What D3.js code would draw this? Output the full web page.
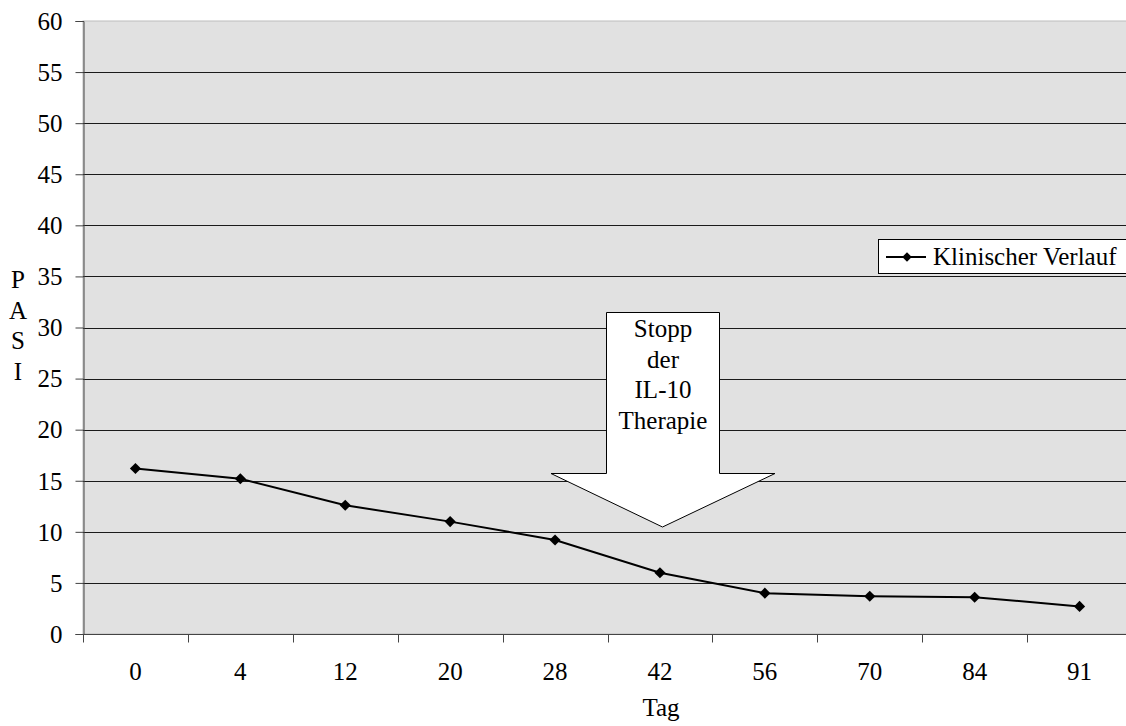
<!DOCTYPE html>
<html>
<head>
<meta charset="utf-8">
<script src="https://cdn.jsdelivr.net/npm/d3@7"></script>
<style>
  body { margin: 0; background: #fff; }
</style>
</head>
<body>
<svg id="chart" width="1126" height="726"></svg>
<script>
// data
const days = ['0', '4', '12', '20', '28', '42', '56', '70', '84', '91']
const pasi = [16.2, 15.2, 12.6, 11.0, 9.2, 6.0, 4.0, 3.7, 3.6, 2.7]
const yTicks = [0, 5, 10, 15, 20, 25, 30, 35, 40, 45, 50, 55, 60]
const seriesName = 'Klinischer Verlauf'
const arrowLines = ['Stopp', 'der', 'IL-10', 'Therapie']
const yLabel = ['P', 'A', 'S', 'I']

const FONT = "'Liberation Serif', 'Times New Roman', serif"

const svg = d3.select('#chart')
const margin = { left: 83, top: 21, right: 1132, bottom: 634 }

const x = d3.scaleBand().domain(days).range([margin.left, margin.right])
const y = d3.scaleLinear().domain([0, 60]).range([margin.bottom, margin.top])

// plot background
svg.append('rect')
    .attr('x', margin.left).attr('y', margin.top)
    .attr('width', margin.right - margin.left)
    .attr('height', margin.bottom - margin.top)
    .style('fill', '#e1e1e1')
    .style('stroke', '#bdbdbd')

// gridlines
svg.append('g').selectAll('line')
    .data(yTicks.filter(d => d > 0 && d < 60))
    .join('line')
    .attr('x1', margin.left).attr('x2', margin.right)
    .attr('y1', d => Math.round(y(d)) + 0.5).attr('y2', d => Math.round(y(d)) + 0.5)
    .style('stroke', '#1a1a1a')

// y axis
const yAxis = svg.append('g')
    .attr('transform', `translate(${margin.left + 0.5},0)`)
    .call(d3.axisLeft(y).tickValues(yTicks).tickSize(8).tickPadding(13))
yAxis.select('.domain').style('stroke', '#444')
yAxis.selectAll('.tick line').style('stroke', '#444')
yAxis.selectAll('text').attr('dy', '0.33em')

// x axis (ticks between categories)
const xAxisG = svg.append('g')
    .attr('transform', `translate(0,${margin.bottom + 0.5})`)
xAxisG.append('line')
    .attr('x1', margin.left).attr('x2', margin.right)
    .style('stroke', '#444')
xAxisG.selectAll('.tk')
    .data(days)
    .join('line')
    .attr('class', 'tk')
    .attr('x1', d => Math.round(x(d)) + 0.5).attr('x2', d => Math.round(x(d)) + 0.5)
    .attr('y1', 0).attr('y2', 8)
    .style('stroke', '#444')
xAxisG.selectAll('text')
    .data(days)
    .join('text')
    .attr('x', d => x(d) + x.bandwidth() / 2)
    .attr('y', 45)
    .attr('text-anchor', 'middle')
    .text(d => d)

svg.append('text')
    .attr('x', 661).attr('y', 716)
    .attr('text-anchor', 'middle')
    .text('Tag')

svg.append('g').selectAll('text')
    .data(yLabel)
    .join('text')
    .attr('x', 18).attr('y', (d, i) => 288 + i * 30.5)
    .attr('text-anchor', 'middle')
    .text(d => d)

// arrow annotation
const arrowPts = [
    [606.5, 312.5], [719.5, 312.5], [719.5, 473.5], [775, 473.5],
    [662.5, 527], [551, 473.5], [606.5, 473.5]
]
svg.append('polygon')
    .attr('points', arrowPts.map(p => p.join(',')).join(' '))
    .style('fill', '#fff')
    .style('stroke', '#000')
    .style('stroke-width', 1)
svg.append('g').selectAll('text')
    .data(arrowLines)
    .join('text')
    .attr('x', 663).attr('y', (d, i) => 337 + i * 30.5)
    .attr('text-anchor', 'middle')
    .text(d => d)

// series
const line = d3.line()
    .x((d, i) => x(days[i]) + x.bandwidth() / 2)
    .y(d => y(d))
svg.append('path')
    .datum(pasi)
    .attr('d', line)
    .style('fill', 'none')
    .style('stroke', '#000')
    .style('stroke-width', 2)

svg.append('g').selectAll('path')
    .data(pasi)
    .join('path')
    .attr('transform', (d, i) => `translate(${x(days[i]) + x.bandwidth() / 2},${y(d)}) rotate(45)`)
    .attr('d', d3.symbol().type(d3.symbolSquare).size(62))
    .style('fill', '#000')

// legend
const legend = svg.append('g')
legend.append('rect')
    .attr('x', 878.5).attr('y', 239.5)
    .attr('width', 260).attr('height', 34)
    .style('fill', '#fff')
    .style('stroke', '#000')
legend.append('line')
    .attr('x1', 886).attr('x2', 926)
    .attr('y1', 257).attr('y2', 257)
    .style('stroke', '#000')
    .style('stroke-width', 2)
legend.append('path')
    .attr('transform', 'translate(907,257) rotate(45)')
    .attr('d', d3.symbol().type(d3.symbolSquare).size(45))
    .style('fill', '#000')
legend.append('text')
    .attr('x', 933).attr('y', 265)
    .text(seriesName)

svg.selectAll('text')
    .attr('font-family', null)
    .attr('font-size', null)
    .style('font-family', FONT)
    .style('font-size', '25px')
    .style('fill', '#000')
</script>
</body>
</html>
